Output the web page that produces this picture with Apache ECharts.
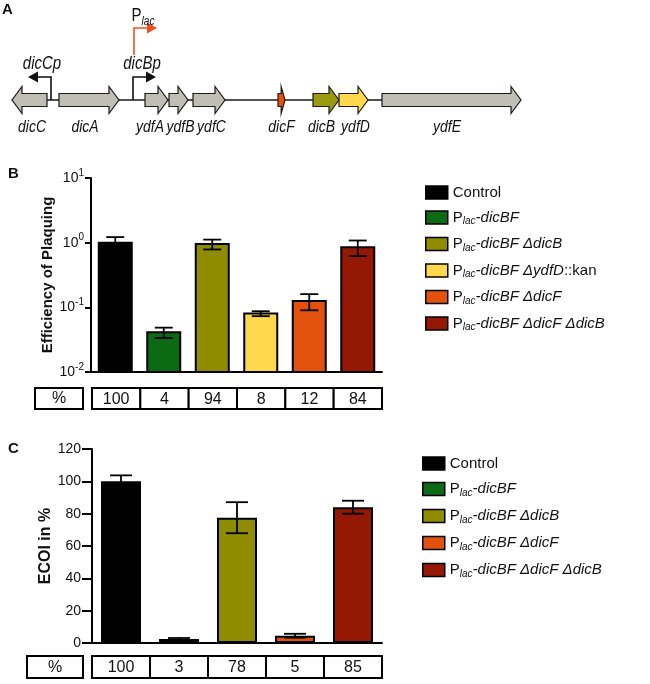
<!DOCTYPE html>
<html><head><meta charset="utf-8">
<script src="https://cdn.jsdelivr.net/npm/echarts@6/dist/echarts.min.js"></script>
<style>html,body{margin:0;padding:0;background:#fff}#c{width:650px;height:684px}</style>
</head><body><div id="c"></div><script>
// ---------- Panel A data: gene map (map units along the locus) ----------
const geneNames  = ['dicC','dicA','ydfA','ydfB','ydfC','dicF','dicB','ydfD','ydfE'];
const geneStart  = [12, 59, 145, 169, 193, 278, 313, 339, 382];
const geneEnd    = [47, 119, 168, 188, 225, 285, 339, 368, 521];
const geneStrand = [-1, 1, 1, 1, 1, 1, 1, 1, 1];
const geneColors = ['#c1beb6','#c1beb6','#c1beb6','#c1beb6','#c1beb6','#e2520c','#9a9a10','#ffd84c','#c1beb6'];
const promoterNames  = ['dicCp','dicBp','P{sub|lac}'];
const promoterPos    = [51, 133, 134];
const promoterStrand = [-1, 1, 1];
const promoterRaised = [0, 0, 1];
const promoterColors = ['#111111','#111111','#f04e23'];

// ---------- Panel B data ----------
const catsB  = ['Control','Plac-dicBF','Plac-dicBF ΔdicB','Plac-dicBF ΔydfD::kan','Plac-dicBF ΔdicF','Plac-dicBF ΔdicF ΔdicB'];
const colorsB = ['#000000','#0c6a14','#8f8c00','#ffd84c','#e2520c','#951805'];
const eopMean = [1.0, 0.041, 0.95, 0.08, 0.125, 0.85];
const eopSD   = [0.22, 0.0075, 0.165, 0.007, 0.035, 0.23];
const eopPct  = [100, 4, 94, 8, 12, 84];
const eopTicks = [0.01, 0.1, 1, 10];

// ---------- Panel C data ----------
const catsC  = ['Control','Plac-dicBF','Plac-dicBF ΔdicB','Plac-dicBF ΔdicF','Plac-dicBF ΔdicF ΔdicB'];
const colorsC = ['#000000','#0c6a14','#8f8c00','#e2520c','#951805'];
const ecoiMean = [100, 2.5, 77.5, 4.5, 84];
const ecoiSD   = [3.7, 0.6, 9.6, 1.2, 4];
const ecoiPct  = [100, 3, 78, 5, 85];

// ---------- styling ----------
const FONT = 'Liberation Sans, Arial, sans-serif';
const NARROW = '"Liberation Sans Narrow", "Arial Narrow", Liberation Sans, Arial, sans-serif';
const TRACK = 100, BH = 6.5, HH = 13.5, HEAD = 10;
const LABEL_NUDGE = {dicC:2.5, dicA:-4, ydfA:-6.5, ydfB:2, ydfC:2.5, dicB:-4.5, ydfD:2, ydfE:-4.5};

const chart = echarts.init(document.getElementById('c'), null, {renderer:'canvas'});

function renderGene(params, api){
  const i = params.dataIndex;
  const a = api.coord([api.value(0), TRACK]), b = api.coord([api.value(1), TRACK]);
  const y = a[1], x0 = a[0], x1 = b[0], dir = api.value(2);
  const h = Math.min(HEAD, (x1 - x0) * 0.55);
  const pts = dir > 0
    ? [[x0,y-BH],[x1-h,y-BH],[x1-h,y-HH],[x1,y],[x1-h,y+HH],[x1-h,y+BH],[x0,y+BH]]
    : [[x1,y-BH],[x0+h,y-BH],[x0+h,y-HH],[x0,y],[x0+h,y+HH],[x0+h,y+BH],[x1,y+BH]];
  const nm = geneNames[i];
  return {type:'group', children:[
    {type:'polygon', shape:{points:pts}, style:{fill:geneColors[i], stroke:'#1a1a1a', lineWidth:1.2}},
    {type:'text', x:(x0+x1)/2 + (LABEL_NUDGE[nm]||0), y:y+27, scaleY:1.2,
      style:{text:nm, x:0, y:0, align:'center', verticalAlign:'middle', font:'italic 14px ' + FONT, fill:'#111'}}
  ]};
}
function renderPromoter(params, api){
  const i = params.dataIndex;
  const raised = api.value(2);
  const baseY = raised ? 55 : TRACK, topY = raised ? 28 : 77;
  const p = api.coord([api.value(0), baseY]);
  const t = api.coord([api.value(0), topY]);
  const dir = api.value(1);
  const ex = p[0] + dir * 23;
  const col = promoterColors[i];
  const tip = ex, back = ex - dir * 10;
  return {type:'group', children:[
    {type:'polyline', shape:{points:[[p[0],p[1]],[t[0],t[1]],[back,t[1]]]}, style:{stroke:col, lineWidth:1.6, fill:null}},
    {type:'polygon', shape:{points:[[tip,t[1]],[back,t[1]-5.5],[back,t[1]+5.5]]}, style:{fill:col}},
    {type:'text', x:p[0] + dir*9, y:t[1]-(raised?12:13), scaleY:1.2,
      style:{text:promoterNames[i], x:0, y:0, align:'center', verticalAlign:'middle',
      font:(raised?'':'italic ') + '15px ' + FONT, fill:'#111',
      rich:{sub:{fontSize:10, fontStyle:'italic', fontFamily:FONT, padding:[9,0,0,0]}}}}
  ]};
}
function renderLogBar(params, api){
  const x = api.value(0), v = api.value(1);
  const lo = api.coord([x, eopTicks[0]]), hi = api.coord([x, v]);
  const w = 33;
  return {type:'rect', shape:{x:hi[0]-w/2, y:hi[1], width:w, height:lo[1]-hi[1]},
    style:{fill:api.visual('color'), stroke:'#000', lineWidth:2}};
}
function makeErr(capW){
  return function(params, api){
    const x = api.value(0), m = api.value(1), sd = api.value(2);
    const hi = api.coord([x, m + sd]), lo = api.coord([x, Math.max(m - sd, 1e-9)]);
    const cx = hi[0];
    const st = {stroke:'#000', lineWidth:1.8};
    return {type:'group', children:[
      {type:'line', shape:{x1:cx, y1:hi[1], x2:cx, y2:lo[1]}, style:st},
      {type:'line', shape:{x1:cx-capW/2, y1:hi[1], x2:cx+capW/2, y2:hi[1]}, style:st},
      {type:'line', shape:{x1:cx-capW/2, y1:lo[1], x2:cx+capW/2, y2:lo[1]}, style:st}
    ]};
  };
}
function makeTable(){
  return function(params, api){
    const idx = api.value(0);
    const top = api.coord([idx, 1]), bot = api.coord([idx, 0]);
    const bw = api.size([1, 0])[0];
    return {type:'group', children:[
      {type:'rect', shape:{x:top[0]-bw/2, y:top[1], width:bw, height:bot[1]-top[1]}, style:{fill:'#fff', stroke:'#000', lineWidth:2}},
      {type:'text', style:{text:String(api.value(1)), x:top[0], y:(top[1]+bot[1])/2+1, align:'center', verticalAlign:'middle', font:'16px ' + FONT, fill:'#111'}}
    ]};
  };
}
const legendRich = {sub:{fontSize:10, fontStyle:'italic', fontFamily:FONT, padding:[8,0,0,0], color:'#111'},
                    it:{fontSize:15, fontStyle:'italic', fontFamily:FONT, color:'#111'},
                    n:{fontSize:15, fontFamily:FONT, color:'#111'}};
function legendFmt(n){
  if (n === 'Control') return '{n|Control}';
  const rest = n.slice(4);
  if (rest.indexOf('::kan') >= 0) return '{n|P}{sub|lac}{it|' + rest.replace('::kan','') + '}{n|::kan}';
  return '{n|P}{sub|lac}{it|' + rest + '}';
}

const series = [];
// Panel A
series.push({type:'line', xAxisIndex:0, yAxisIndex:0, data:[[geneEnd[0], TRACK],[geneStart[geneStart.length-1], TRACK]],
  symbol:'none', lineStyle:{color:'#1a1a1a', width:1.5}, z:1, silent:true});
series.push({type:'custom', name:'genes', xAxisIndex:0, yAxisIndex:0, renderItem:renderGene, z:2,
  data:geneNames.map((g,i)=>[geneStart[i], geneEnd[i], geneStrand[i]])});
series.push({type:'custom', name:'promoters', xAxisIndex:0, yAxisIndex:0, renderItem:renderPromoter, z:3,
  data:promoterNames.map((p,i)=>[promoterPos[i], promoterStrand[i], promoterRaised[i]])});
// Panel B bars (log axis: bars drawn from the axis floor)
catsB.forEach((c,i)=>{
  series.push({type:'custom', name:c, xAxisIndex:1, yAxisIndex:1, renderItem:renderLogBar, z:2,
    itemStyle:{color:colorsB[i], borderColor:'#000', borderWidth:2},
    data:[[i, eopMean[i]]]});
});
series.push({type:'custom', name:'errB', xAxisIndex:1, yAxisIndex:1, renderItem:makeErr(18), z:5,
  data:catsB.map((c,i)=>[i, eopMean[i], eopSD[i]])});
series.push({type:'custom', name:'tableB', xAxisIndex:2, yAxisIndex:2, renderItem:makeTable(),
  data:catsB.map((c,i)=>[i, eopPct[i]])});
// Panel C bars
catsC.forEach((c,i)=>{
  series.push({type:'bar', name:c, xAxisIndex:3, yAxisIndex:3, barWidth:40, barGap:'-100%',
    itemStyle:{color:colorsC[i], borderColor:'#000', borderWidth:2},
    data:catsC.map((d,j)=> j===i ? ecoiMean[i] : '-')});
});
series.push({type:'custom', name:'errC', xAxisIndex:3, yAxisIndex:3, renderItem:makeErr(22), z:5,
  data:catsC.map((c,i)=>[i, ecoiMean[i], ecoiSD[i]])});
series.push({type:'custom', name:'tableC', xAxisIndex:4, yAxisIndex:4, renderItem:makeTable(),
  data:catsC.map((c,i)=>[i, ecoiPct[i]])});

const hiddenCat = cats => ({type:'category', data:cats, show:true, axisLine:{show:false}, axisTick:{show:false}, axisLabel:{show:false}, splitLine:{show:false}});

const option = {
  animation:false,
  backgroundColor:'#fff',
  textStyle:{fontFamily:FONT},
  grid:[
    {left:0, top:0, width:650, height:140},
    {left:91, top:178, width:291, height:194},
    {left:92, top:388, width:290, height:21},
    {left:92, top:449, width:290, height:194},
    {left:92, top:656, width:290, height:22}
  ],
  xAxis:[
    {type:'value', gridIndex:0, min:0, max:650, show:false},
    {type:'category', gridIndex:1, data:catsB, axisLine:{lineStyle:{color:'#000', width:2}}, axisTick:{show:false}, axisLabel:{show:false}},
    Object.assign(hiddenCat(catsB), {gridIndex:2}),
    {type:'category', gridIndex:3, data:catsC, axisLine:{lineStyle:{color:'#000', width:2}}, axisTick:{show:false}, axisLabel:{show:false}},
    Object.assign(hiddenCat(catsC), {gridIndex:4})
  ],
  yAxis:[
    {type:'value', gridIndex:0, min:0, max:140, inverse:true, show:false},
    {type:'log', gridIndex:1, logBase:10, min:eopTicks[0], max:eopTicks[eopTicks.length-1],
      name:'Efficiency of Plaquing', nameLocation:'middle', nameGap:36,
      nameTextStyle:{fontSize:15, fontWeight:'bold', color:'#111', fontFamily:FONT},
      axisLine:{show:true, lineStyle:{color:'#000', width:2}},
      axisTick:{show:true, length:6, lineStyle:{color:'#000', width:2}},
      minorTick:{show:false}, splitLine:{show:false},
      axisLabel:{margin:7, color:'#111', fontFamily:FONT,
        formatter:v=>'{b|10}{s|' + Math.round(Math.log10(v)) + '}',
        rich:{b:{fontSize:14, fontFamily:FONT, color:'#111'}, s:{fontSize:10, fontFamily:FONT, color:'#111', padding:[0,0,10,0]}}}},
    {type:'value', gridIndex:2, min:0, max:1, show:false},
    {type:'value', gridIndex:3, min:0, max:120, interval:20,
      name:'ECOI in %', nameLocation:'middle', nameGap:33,
      nameTextStyle:{fontSize:16, fontWeight:'bold', color:'#111', fontFamily:FONT},
      axisLine:{show:true, lineStyle:{color:'#000', width:2}},
      axisTick:{show:true, length:10, lineStyle:{color:'#000', width:2}},
      splitLine:{show:false},
      axisLabel:{margin:11, fontSize:14, color:'#111', fontFamily:NARROW}},
    {type:'value', gridIndex:4, min:0, max:1, show:false}
  ],
  legend:[
    {data:catsB, left:420, top:180, orient:'vertical', icon:'rect', itemWidth:22, itemHeight:13, itemGap:10,
      itemStyle:{borderColor:'#000', borderWidth:1.5},
      formatter:legendFmt, textStyle:{fontSize:15, color:'#111', fontFamily:FONT, rich:legendRich}},
    {data:catsC, left:417, top:451, orient:'vertical', icon:'rect', itemWidth:22, itemHeight:13, itemGap:10.5,
      itemStyle:{borderColor:'#000', borderWidth:1.5},
      formatter:legendFmt, textStyle:{fontSize:15, color:'#111', fontFamily:FONT, rich:legendRich}}
  ],
  graphic:[
    {type:'text', left:2, top:2, style:{text:'A', font:'bold 15px ' + FONT, fill:'#111'}},
    {type:'text', left:8, top:166, style:{text:'B', font:'bold 15px ' + FONT, fill:'#111'}},
    {type:'text', left:8, top:441, style:{text:'C', font:'bold 15px ' + FONT, fill:'#111'}},
    {type:'rect', shape:{x:35, y:388, width:48, height:21}, style:{fill:'#fff', stroke:'#000', lineWidth:2}},
    {type:'text', x:59, y:399, style:{text:'%', font:'16px ' + FONT, fill:'#111', align:'center', verticalAlign:'middle'}},
    {type:'rect', shape:{x:27, y:656, width:56, height:22}, style:{fill:'#fff', stroke:'#000', lineWidth:2}},
    {type:'text', x:55, y:668, style:{text:'%', font:'16px ' + FONT, fill:'#111', align:'center', verticalAlign:'middle'}}
  ],
  series:series
};
chart.setOption(option);
</script></body></html>
